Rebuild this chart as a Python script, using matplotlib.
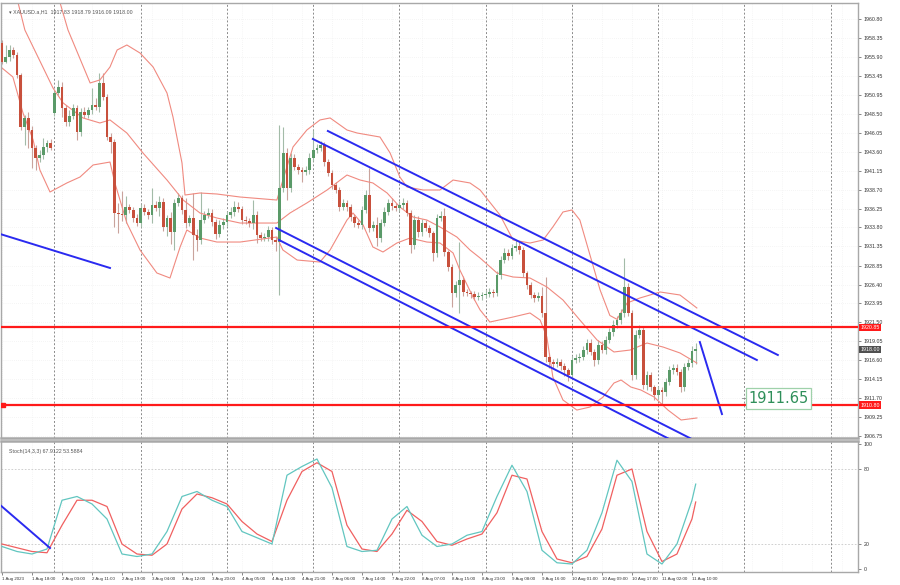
import numpy as np
import matplotlib.pyplot as plt
from matplotlib.transforms import blended_transform_factory

# XAUUSD.a H1 candles, 1 Aug 10:00 .. 11 Aug 11:00 (bar index 0..185)
first_open = 1957.7
gap_open = {14: 1948.6}

closes = [
    1955.2, 1955.9, 1956.8, 1956.1, 1953.5, 1946.8, 1948.0, 1946.4, 1944.1, 1942.8,
    1943.2, 1944.2, 1944.7, 1944.1, 1951.2, 1952.0, 1949.3, 1947.5, 1948.2, 1949.3,
    1946.2, 1948.8, 1948.4, 1949.0, 1949.7, 1949.4, 1952.5, 1950.7, 1945.5, 1944.9,
    1935.7, 1935.5, 1935.4, 1936.4, 1936.1, 1935.0, 1934.4, 1936.3, 1935.8, 1935.4,
    1936.7, 1936.3, 1937.1, 1933.9, 1935.0, 1933.2, 1937.0, 1937.6, 1936.1, 1934.4,
    1935.0, 1932.8, 1932.2, 1934.8, 1935.4, 1935.7, 1934.5, 1932.9, 1934.1, 1934.5,
    1935.4, 1935.8, 1936.4, 1936.2, 1934.8, 1934.6, 1934.4, 1935.4, 1932.8, 1932.4,
    1932.6, 1933.5, 1932.2, 1931.9, 1938.9, 1943.4, 1938.9, 1942.8, 1941.6, 1941.2,
    1941.0, 1941.2, 1942.8, 1943.8, 1944.1, 1944.5, 1942.3, 1940.9, 1939.3, 1938.7,
    1936.4, 1937.0, 1936.4, 1935.2, 1934.4, 1934.1, 1936.1, 1938.0, 1933.7, 1934.1,
    1932.4, 1934.4, 1935.8, 1937.0, 1936.6, 1936.3, 1936.7, 1937.0, 1935.7, 1931.5,
    1934.8, 1933.2, 1934.4, 1933.7, 1933.1, 1930.5, 1935.0, 1935.3, 1930.6, 1928.7,
    1925.3, 1926.3, 1927.0, 1925.4, 1925.3, 1925.2, 1924.8, 1924.9, 1925.1, 1925.2,
    1925.4, 1925.3, 1927.6, 1929.6, 1930.5, 1930.1, 1931.1, 1931.4, 1930.9, 1927.9,
    1926.3, 1925.1, 1924.7, 1924.9, 1922.7, 1917.0, 1916.4, 1916.1, 1916.4, 1915.9,
    1915.3, 1914.7, 1916.6, 1916.9, 1917.0, 1917.9, 1918.8, 1917.7, 1916.6, 1918.6,
    1917.9, 1919.2, 1920.3, 1921.2, 1921.8, 1922.7, 1926.1, 1922.7, 1914.7, 1919.9,
    1920.5, 1913.4, 1914.7, 1913.1, 1912.1, 1912.7, 1912.5, 1913.8, 1915.3, 1915.6,
    1915.1, 1913.1, 1915.7, 1916.2, 1917.8, 1918.0,
]

upper_wick = [
    0.4, 1.5, 0.6, 0.4, 0.4, 0.3, 0.4, 0.8, 0.5, 0.4,
    0.6, 1.2, 0.4, 0.6, 0.4, 0.9, 0.6, 0.3, 0.8, 0.5,
    0.3, 0.5, 0.6, 0.4, 2.2, 0.8, 1.3, 1.3, 0.4, 0.5,
    0.3, 1.3, 3.0, 1.5, 0.5, 0.4, 0.5, 0.6, 0.5, 0.4,
    2.2, 0.5, 0.8, 0.5, 0.4, 0.8, 0.5, 0.6, 0.4, 1.5,
    0.4, 3.3, 0.8, 3.6, 0.5, 0.6, 0.5, 0.4, 0.6, 0.5,
    0.5, 0.6, 0.8, 0.7, 0.4, 0.5, 0.4, 2.0, 0.5, 0.4,
    0.5, 0.5, 0.4, 0.3, 8.2, 3.4, 0.7, 0.6, 0.5, 0.4,
    0.4, 0.5, 0.6, 2.6, 0.5, 0.5, 0.4, 0.3, 0.4, 0.4,
    0.3, 0.5, 0.4, 0.4, 0.3, 0.4, 0.5, 0.6, 3.5, 0.5,
    1.0, 0.5, 0.6, 0.5, 0.6, 0.4, 0.5, 0.6, 0.4, 0.3,
    0.6, 0.5, 0.5, 0.4, 0.4, 0.3, 0.5, 0.6, 1.0, 0.3,
    0.3, 0.5, 4.9, 0.5, 0.4, 0.3, 0.4, 0.5, 0.4, 0.5,
    0.5, 0.4, 0.6, 0.5, 0.6, 0.5, 0.6, 0.8, 0.5, 0.4,
    0.3, 0.4, 0.3, 0.5, 1.2, 4.7, 0.5, 0.4, 0.5, 0.4,
    0.4, 0.3, 0.5, 0.5, 0.6, 0.5, 0.6, 0.5, 0.4, 0.6,
    0.5, 0.6, 0.5, 0.6, 0.5, 0.6, 3.8, 0.5, 0.4, 0.6,
    0.6, 0.4, 0.5, 0.4, 0.3, 0.5, 0.4, 0.5, 0.6, 0.5,
    0.5, 0.4, 0.6, 0.5, 0.6, 0.8,
]

lower_wick = [
    0.2, 0.1, 0.6, 0.3, 0.3, 0.4, 2.3, 2.3, 2.6, 1.6,
    0.5, 0.5, 0.6, 0.3, 0.4, 0.3, 1.2, 0.6, 0.5, 0.4,
    1.1, 0.5, 0.4, 0.4, 0.5, 0.4, 0.7, 0.4, 0.4, 1.5,
    1.8, 2.4, 0.8, 1.0, 0.4, 0.5, 0.4, 0.5, 0.4, 0.5,
    1.0, 0.4, 1.0, 0.5, 1.2, 1.5, 2.3, 0.4, 0.5, 0.7,
    0.4, 3.2, 1.5, 0.5, 0.4, 0.4, 0.5, 0.6, 0.4, 0.5,
    0.5, 0.4, 0.5, 0.4, 0.5, 0.4, 0.5, 0.8, 1.0, 0.4,
    0.4, 0.5, 0.6, 1.2, 6.9, 0.5, 1.5, 0.5, 0.4, 0.5,
    1.3, 0.4, 0.5, 0.4, 0.3, 0.4, 0.5, 0.4, 0.5, 0.4,
    0.5, 0.4, 0.5, 0.6, 0.5, 0.4, 0.5, 0.4, 0.5, 0.4,
    1.0, 0.5, 0.4, 0.4, 0.5, 0.4, 0.4, 0.5, 0.4, 1.0,
    0.5, 0.6, 0.5, 0.4, 0.5, 1.0, 0.5, 0.4, 0.5, 0.6,
    1.8, 0.5, 3.6, 0.5, 0.4, 0.5, 0.4, 0.4, 0.5, 0.4,
    0.4, 0.5, 0.4, 0.5, 0.4, 0.5, 0.4, 0.4, 0.5, 0.5,
    0.5, 0.4, 0.5, 0.4, 0.5, 0.6, 0.8, 0.5, 0.4, 0.5,
    0.8, 0.8, 0.5, 0.4, 0.5, 0.4, 0.5, 0.4, 0.7, 0.5,
    0.4, 0.5, 0.4, 0.5, 0.4, 0.5, 0.5, 0.4, 0.7, 0.5,
    0.4, 0.5, 0.6, 0.5, 0.6, 0.5, 1.7, 0.5, 0.4, 0.5,
    0.4, 0.6, 0.5, 0.4, 0.5, 1.7,
]

# Bollinger bands (20, 2): (bar position, price)
bb_upper_pos = [12.8, 15.5, 17.6, 23.5, 26.1, 28.8, 30.7, 33.3, 36.8, 40.3, 44.0, 45.6, 48.0,
                48.8, 52.8, 57.3, 63.5, 73.3, 77.6, 81.3, 84.8, 87.5, 92.0, 94.7, 100.8,
                103.5, 106.1, 108.0, 112.3, 116.8, 120.3, 124.8, 127.5, 132.8, 136.3, 140.8,
                144.3, 146.9, 149.6, 152.0, 154.1, 156.8, 159.5, 162.1, 164.0, 166.7, 170.1,
                175.5, 180.8, 185.3]
bb_upper = [1967.10, 1962.87, 1959.37, 1952.51, 1952.90, 1954.58, 1956.78, 1957.43, 1956.39,
            1954.58, 1951.21, 1948.10, 1942.15, 1938.00, 1938.26, 1938.13, 1937.74, 1937.35,
            1944.22, 1946.42, 1947.72, 1947.98, 1946.42, 1946.03, 1945.51, 1943.44, 1940.33,
            1939.04, 1938.65, 1938.65, 1939.94, 1939.56, 1938.65, 1935.41, 1932.17, 1931.78,
            1932.17, 1933.86, 1935.80, 1936.06, 1934.76, 1930.23, 1925.70, 1922.40, 1921.90,
            1924.01, 1924.66, 1925.44, 1925.05, 1923.37]
bb_mid_pos = [0.0, 4.3, 6.1, 13.6, 16.3, 21.6, 26.1, 28.8, 33.3, 37.6, 44.0, 48.3, 52.8, 57.3,
              63.5, 73.3, 76.8, 81.3, 86.7, 92.0, 95.5, 98.9, 102.7, 106.1, 109.6, 113.3,
              116.8, 121.3, 124.8, 127.5, 132.0, 136.3, 140.8, 145.3, 149.6, 154.1, 158.7,
              163.2, 167.5, 172.0, 176.3, 180.8, 185.3]
bb_mid = [1967.15, 1962.87, 1959.37, 1951.86, 1949.92, 1947.98, 1947.33, 1947.72, 1946.03,
          1943.44, 1939.94, 1937.35, 1935.67, 1935.02, 1934.37, 1934.37, 1935.67, 1936.97,
          1938.65, 1940.59, 1939.94, 1939.56, 1938.26, 1936.45, 1935.15, 1934.76, 1933.86,
          1932.56, 1930.88, 1929.84, 1927.90, 1927.38, 1927.25, 1926.09, 1924.40, 1921.81,
          1919.22, 1917.67, 1917.92, 1918.83, 1918.31, 1917.54, 1916.24]
bb_lower_pos = [0.0, 2.9, 5.6, 8.3, 10.1, 12.8, 17.3, 20.8, 24.3, 28.8, 30.1, 33.3, 36.8, 41.3,
                44.8, 47.5, 49.3, 52.8, 57.3, 63.5, 73.3, 74.9, 78.7, 84.8, 87.5, 92.0, 93.6,
                96.3, 98.9, 101.6, 105.3, 108.8, 113.3, 116.8, 120.3, 122.1, 125.6, 127.5,
                130.1, 136.3, 140.8, 143.5, 145.3, 146.9, 149.6, 153.3, 156.8, 160.3, 163.2,
                165.1, 167.7, 170.4, 173.9, 177.6, 181.1, 185.3]
bb_lower = [1954.45, 1953.29, 1948.62, 1945.13, 1941.24, 1938.39, 1939.56, 1940.33, 1941.89,
            1942.27, 1939.56, 1934.37, 1930.88, 1927.90, 1927.25, 1931.27, 1933.47, 1932.43,
            1931.91, 1931.91, 1932.56, 1930.88, 1929.58, 1929.32, 1930.88, 1934.76, 1935.67,
            1934.12, 1931.27, 1930.62, 1931.78, 1932.43, 1931.91, 1931.78, 1930.49, 1928.29,
            1924.79, 1923.11, 1921.55, 1922.20, 1922.72, 1921.81, 1919.61, 1914.43, 1911.45,
            1910.15, 1910.54, 1911.84, 1913.65, 1914.04, 1913.13, 1912.74, 1911.84, 1910.15,
            1908.86, 1909.12]

# Stochastic (14,3,3) read every 4 bars
stoch_idx = list(range(0, 185, 4)) + [185]
stoch_k = [18, 14, 12, 16, 55, 58, 52, 40, 12, 10, 12, 30, 58, 62, 55, 50, 30, 25, 20, 75,
           82, 88, 65, 18, 14, 15, 40, 50, 27, 18, 20, 27, 30, 58, 83, 62, 15, 5, 4, 15,
           45, 87, 70, 12, 4, 20, 55, 67.9]
stoch_d = [20, 17, 14, 13, 35, 55, 55, 50, 20, 12, 11, 20, 48, 60, 57, 52, 38, 28, 22, 55,
           78, 85, 78, 35, 16, 14, 28, 47, 38, 22, 19, 24, 28, 45, 75, 72, 30, 8, 5, 10,
           32, 75, 80, 30, 6, 12, 40, 53.6]

# drawn objects: (bar index, price) end points
trend_lines = [
    ((-0.5, 1932.95), (28.8, 1928.55)),
    ((86.9, 1946.29), (206.9, 1917.28)),
    ((82.9, 1945.26), (201.3, 1916.63)),
    ((73.1, 1933.73), (190.0, 1904.9)),
    ((73.9, 1932.17), (184.0, 1904.9)),
    ((186.1, 1918.96), (192.0, 1909.63)),
]
stoch_line = ((-0.5, 51.2), (12.8, 16.8))
level_lines = [1920.85, 1910.80]
target_price = 1911.65
last_price = 1918.00

price_ticks = [1960.80, 1958.35, 1955.90, 1953.45, 1950.95, 1948.50, 1946.05, 1943.60,
               1941.15, 1938.70, 1936.25, 1933.80, 1931.35, 1928.85, 1926.40, 1923.95,
               1921.50, 1919.05, 1916.60, 1914.15, 1911.70, 1909.25, 1906.75]
time_labels = ['1 Aug 2023', '1 Aug 18:00', '2 Aug 03:00', '2 Aug 11:00', '2 Aug 19:00',
               '3 Aug 04:00', '3 Aug 12:00', '3 Aug 20:00', '4 Aug 05:00', '4 Aug 13:00',
               '4 Aug 21:00', '7 Aug 06:00', '7 Aug 14:00', '7 Aug 22:00', '8 Aug 07:00',
               '8 Aug 15:00', '8 Aug 23:00', '9 Aug 08:00', '9 Aug 16:00', '10 Aug 01:00',
               '10 Aug 09:00', '10 Aug 17:00', '11 Aug 02:00', '11 Aug 10:00']
day_starts = [14, 37, 60, 83, 106, 129, 152, 175, 198, 221]

RED = '#c8503c'
GREEN = '#5a9a68'
RED_WICK = '#c9a39c'
GREEN_WICK = '#a3bba8'
BAND = '#f08a80'
FRAME = '#a8a8a8'
SMALL = 'Liberation Sans'

opens = []
for i in range(len(closes)):
    if i == 0:
        opens.append(first_open)
    elif i in gap_open:
        opens.append(gap_open[i])
    else:
        opens.append(closes[i - 1])
opens = np.array(opens)
closes = np.array(closes)
highs = np.maximum(opens, closes) + np.array(upper_wick)
lows = np.minimum(opens, closes) - np.array(lower_wick)
x = np.arange(len(closes))
up = closes >= opens

fig = plt.figure(figsize=(9, 5.85), dpi=100)
ax = fig.add_axes([0.0011, 0.2513, 0.9522, 0.7436])
ax2 = fig.add_axes([0.0011, 0.0222, 0.9522, 0.2240])

xmin, xmax = -0.27, 228.27
for a in (ax, ax2):
    a.set_xlim(xmin, xmax)
    for s in a.spines.values():
        s.set_color(FRAME)
        s.set_linewidth(1.0)
    a.set_facecolor('white')
ax.spines['bottom'].set_linewidth(1.8)
ax2.spines['top'].set_linewidth(1.8)
ax.set_ylim(1906.53, 1962.87)
ax2.set_ylim(-2.4, 102.4)

# light grid
for a in (ax, ax2):
    for k in range(0, 230, 8):
        a.axvline(k, color='#ececec', lw=0.5, ls=(0, (1, 2)), zorder=0)
for p in price_ticks:
    ax.axhline(p, color='#ececec', lw=0.5, ls=(0, (1, 2)), zorder=0)
for v in (80, 20):
    ax2.axhline(v, color='#c8c8c8', lw=0.6, ls=(0, (2, 2)), zorder=0)
# day separators
for a in (ax, ax2):
    for d in day_starts:
        a.axvline(d, color='#8a8a8a', lw=0.7, ls=(0, (2, 2)), zorder=1)

# candles
ax.vlines(x[up], lows[up], highs[up], color=GREEN_WICK, lw=0.8, zorder=2)
ax.vlines(x[~up], lows[~up], highs[~up], color=RED_WICK, lw=0.8, zorder=2)
body_lo = np.minimum(opens, closes)
body_h = np.maximum(np.abs(closes - opens), 0.12)
ax.bar(x[up], body_h[up], bottom=body_lo[up], width=0.72, color=GREEN, lw=0, zorder=3)
ax.bar(x[~up], body_h[~up], bottom=body_lo[~up], width=0.72, color=RED, lw=0, zorder=3)

# bollinger bands
ax.plot(bb_upper_pos, bb_upper, color=BAND, lw=0.8, zorder=2)
ax.plot(bb_mid_pos, bb_mid, color=BAND, lw=0.8, zorder=2)
ax.plot(bb_lower_pos, bb_lower, color=BAND, lw=0.8, zorder=2)

# trend lines
for (x0, y0), (x1, y1) in trend_lines:
    ax.plot([x0, x1], [y0, y1], color='#2a2af0', lw=1.4, zorder=4)

# horizontal levels
for lv in level_lines:
    ax.axhline(lv, color='#ff1a1a', lw=1.6, zorder=4)
ax.plot([0.3], [level_lines[1]], marker='s', ms=2.5, color='#ff1a1a', zorder=5)

# target label
ax.plot([197.3, 198.3], [target_price, target_price], color='#888888', lw=0.6, zorder=5)
ax.text(199.0, target_price, '1911.65', fontsize=10.5, color='#2f8f5a', va='center', ha='left',
        zorder=6, bbox=dict(boxstyle='square,pad=0.18', fc='white', ec='#9fd1aa', lw=0.9))

# price axis
ax.yaxis.tick_right()
ax.set_yticks(price_ticks)
ax.set_yticklabels(['%.2f' % p for p in price_ticks], family=SMALL)
ax.tick_params(axis='y', labelsize=3.8, length=2, width=0.5, color='#555555',
               labelcolor='#333333', pad=2)
ax.set_xticks([])
trans = blended_transform_factory(ax.transAxes, ax.transData)
for lv, fc in ((level_lines[0], '#ff1a1a'), (level_lines[1], '#ff1a1a'), (last_price, '#505050')):
    ax.text(1.003, lv, '%.2f' % lv, transform=trans, fontsize=3.8, family=SMALL, color='white',
            va='center', ha='left', zorder=7, clip_on=False,
            bbox=dict(boxstyle='square,pad=0.25', fc=fc, ec='none'))

ax.text(0.009, 0.985, '\u25be XAUUSD.a,H1  1917.83 1918.79 1916.09 1918.00', transform=ax.transAxes,
        fontsize=3.8, family=['Liberation Sans', 'DejaVu Sans'], color='#555555', va='top', ha='left')

# stochastic panel
ax2.plot(stoch_idx, stoch_d, color='#f06060', lw=0.9, zorder=3)
ax2.plot(stoch_idx, stoch_k, color='#62c6c0', lw=0.9, zorder=3)
(sx0, sy0), (sx1, sy1) = stoch_line
ax2.plot([sx0, sx1], [sy0, sy1], color='#2a2af0', lw=1.4, zorder=4)
ax2.text(0.009, 0.94, 'Stoch(14,3,3) 67.9122 53.5884', transform=ax2.transAxes,
         fontsize=3.8, family=SMALL, color='#555555', va='top', ha='left')
ax2.yaxis.tick_right()
ax2.set_yticks([0, 20, 80, 100])
ax2.set_yticklabels(['0', '20', '80', '100'], family=SMALL)
ax2.tick_params(axis='y', labelsize=3.8, length=2, width=0.5, color='#555555',
                labelcolor='#333333', pad=2)
ax2.set_xticks(list(range(0, 186, 8)))
ax2.set_xticklabels(time_labels, ha='left', family=SMALL)
ax2.tick_params(axis='x', labelsize=3.2, length=2, width=0.5, color='#555555',
                labelcolor='#333333', pad=1.5)

fig.savefig('out.png', dpi=100, facecolor='white')
